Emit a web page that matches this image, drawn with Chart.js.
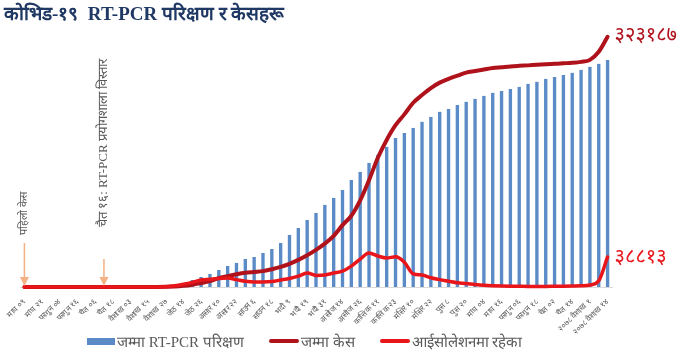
<!DOCTYPE html>
<html>
<head>
<meta charset="utf-8">
<script src="https://cdn.jsdelivr.net/npm/chart.js@4.4.0/dist/chart.umd.min.js"></script>
<style>
  body { margin: 0; background: #fff; }
  #wrap { position: relative; width: 696px; height: 353px; }
  #title { position: absolute; left: 4px; top: 0px; font: bold 19px "Liberation Serif", serif; color: #1f3864; white-space: nowrap; }
  #legend { position: absolute; left: 87px; top: 331px; font: 15px "Liberation Serif", serif; color: #595959; white-space: nowrap; display: flex; align-items: center; }
  .item { display: flex; align-items: center; margin-right: 25px; }
  .sw { display: inline-block; margin-right: 2px; }
</style>
</head>
<body>
<div id="wrap">
  <canvas id="chart" width="696" height="353"></canvas>
  <div id="title">कोभिड-१९&nbsp; RT-PCR परिक्षण र केसहरू</div>
  <div id="legend"></div>
</div>
<script>
// x-axis tick labels (one every two weeks)
const tickLabels = [
  'माघ ०९', 'माघ २१', 'फागुन ०४', 'फागुन १६', 'चैत ०६', 'चैत १८', 'वैशाख ०३', 'वैशाख १५', 'वैशाख २७',
  'जेठ १४', 'जेठ २६', 'असार १०', 'असार २२', 'साउन ६', 'साउन १८', 'भदौ ९', 'भदौ १९', 'भदौ ३१',
  'असोज १४', 'असोज २६', 'कात्तिक ११', 'कात्तिक २३', 'मंसिर १०', 'मंसिर २२', 'पुस ८', 'पुस २०',
  'माघ ०४', 'माघ १६', 'फागुन ०६', 'फागुन १८', 'चैत ०२', 'चैत १४', '२०७८ वैशाख १', '२०७८ वैशाख १४'
];

// weekly values
const pcrTests = [
  0, 0, 0, 0, 0, 0, 0, 0, 1000, 1500, 2500, 3500, 4500, 6000,
  8000, 12000, 16000, 22000, 33000, 76000, 109000, 142000, 185000, 229000, 262000, 305000, 327000,
  371000, 414000, 480000, 567000, 643000, 730000, 807000, 894000, 970000, 1057000, 1166000, 1254000,
  1352000, 1439000, 1526000, 1624000, 1679000, 1733000, 1799000, 1853000, 1908000, 1940000, 1984000,
  2017000, 2049000, 2082000, 2115000, 2136000, 2158000, 2180000, 2213000, 2235000, 2267000, 2289000,
  2311000, 2333000, 2365000, 2398000, 2431000, 2474000
];
const totalCases = [
  1, 1, 1, 1, 1, 1, 1, 1, 5, 5, 9, 16, 31, 49,
  60, 100, 300, 600, 1500, 3000, 5000, 7500, 11500, 14000, 16500, 18500, 19500,
  20500, 23000, 26000, 30000, 35000, 41000, 48000, 56000, 66000, 80000, 92000, 112000,
  138000, 167000, 190000, 209000, 223000, 238000, 248000, 257000, 264000, 269000, 273000,
  277000, 279000, 281000, 283000, 284000, 285000, 285700, 286300, 287000, 287600, 288300,
  289000, 289600, 290800, 293400, 303800, 323187
];
const isolation = [
  1, 0, 0, 0, 0, 0, 0, 0, 4, 4, 8, 14, 26, 32,
  40, 80, 300, 1500, 3500, 6000, 9000, 10000, 11000, 11500, 9500, 7500, 6500,
  6500, 7000, 9000, 11000, 14000, 18000, 15000, 15500, 18000, 20500, 27000, 36000,
  44000, 40000, 37500, 39000, 32000, 17000, 15500, 12000, 9500, 7500, 5500,
  4500, 3200, 2200, 1600, 1200, 1000, 900, 800, 800, 800, 900,
  1000, 1200, 1500, 2500, 8000, 38813
];

const events = ['पहिलो केस', 'चैत १६: RT-PCR प्रयोगशाला विस्तार'];
const eventWeek = [0, 9];

// categories: labelled weeks alternate with unlabelled ones
const labels = [];
tickLabels.forEach((t, k) => {
  labels.push(t);
  if (k < tickLabels.length - 1) labels.push('');
});

const devDigits = '०१२३४५६७८९';
const toDev = n => String(n).replace(/\d/g, d => devDigits[d]);

const extras = {
  id: 'extras',
  afterDatasetsDraw(chart) {
    const c = chart.ctx;
    const x = chart.scales.x;
    const bottom = chart.chartArea.bottom;
    // event arrows and vertical notes
    const arrowTop = [bottom - 44, bottom - 28];
    const textEnd = [bottom - 52, bottom - 60];
    const textSize = [11, 13];
    eventWeek.forEach((w, k) => {
      const px = x.getPixelForValue(w);
      c.save();
      c.strokeStyle = '#f4b183';
      c.fillStyle = '#f4b183';
      c.lineWidth = 1.5;
      c.beginPath();
      c.moveTo(px, arrowTop[k]);
      c.lineTo(px, bottom - 8);
      c.stroke();
      c.beginPath();
      c.moveTo(px - 4.5, bottom - 10);
      c.lineTo(px + 4.5, bottom - 10);
      c.lineTo(px, bottom - 1);
      c.closePath();
      c.fill();
      c.translate(px, textEnd[k]);
      c.rotate(-Math.PI / 2);
      c.font = textSize[k] + 'px "Liberation Serif", serif';
      c.fillStyle = '#595959';
      c.textAlign = 'left';
      c.textBaseline = 'middle';
      c.fillText(events[k], 0, 0);
      c.restore();
    });
    // end-of-line values
    [1, 2].forEach(di => {
      const ds = chart.data.datasets[di];
      const meta = chart.getDatasetMeta(di);
      const last = meta.data[meta.data.length - 1];
      c.save();
      c.font = '20px "Noto Sans", sans-serif';
      c.fillStyle = ds.borderColor;
      c.textAlign = 'left';
      c.textBaseline = 'middle';
      c.fillText(toDev(ds.data[ds.data.length - 1]), last.x + 7, last.y - (di === 1 ? 2 : 0));
      c.restore();
    });
  }
};

const ctx = document.getElementById('chart').getContext('2d');
const chart = new Chart(ctx, {
  data: {
    labels: labels,
    datasets: [
      {
        type: 'bar', label: 'जम्मा RT-PCR परिक्षण', data: pcrTests, yAxisID: 'y2',
        backgroundColor: '#5b8bc6', categoryPercentage: 1, barPercentage: 0.38, order: 3
      },
      {
        type: 'line', label: 'जम्मा केस', data: totalCases, yAxisID: 'y',
        borderColor: '#b0121b', borderWidth: 4, pointRadius: 0, cubicInterpolationMode: 'monotone',
        borderCapStyle: 'round', clip: 8, order: 2
      },
      {
        type: 'line', label: 'आईसोलेशनमा रहेका', data: isolation, yAxisID: 'y',
        borderColor: '#e8151b', borderWidth: 3.5, pointRadius: 0, cubicInterpolationMode: 'monotone',
        borderCapStyle: 'round', clip: 8, order: 1
      }
    ]
  },
  options: {
    responsive: false,
    animation: false,
    layout: { padding: { top: 30, left: 20, right: 84, bottom: 0 } },
    plugins: { legend: { display: false }, tooltip: { enabled: false } },
    scales: {
      x: {
        offset: true,
        grid: { display: false },
        border: { color: '#d9d9d9' },
        ticks: {
          autoSkip: false, minRotation: 45, maxRotation: 45, padding: 2,
          color: '#595959', font: { size: 8 }
        },
        afterFit: s => { s.height = 66; }
      },
      y: { display: false, min: 0, max: 332000 },
      y2: { display: false, min: 0, max: 2800000 }
    }
  },
  plugins: [extras]
});

// legend below the chart
const legend = document.getElementById('legend');
chart.data.datasets.forEach(ds => {
  const item = document.createElement('span');
  item.className = 'item';
  const sw = document.createElement('span');
  sw.className = 'sw';
  if (ds.type === 'bar') {
    sw.style.cssText = 'width:28px;height:7px;background:' + ds.backgroundColor;
  } else {
    sw.style.cssText = 'width:30px;height:4px;border-radius:2px;background:' + ds.borderColor;
  }
  item.appendChild(sw);
  item.appendChild(document.createTextNode(ds.label));
  legend.appendChild(item);
});
</script>
</body>
</html>
